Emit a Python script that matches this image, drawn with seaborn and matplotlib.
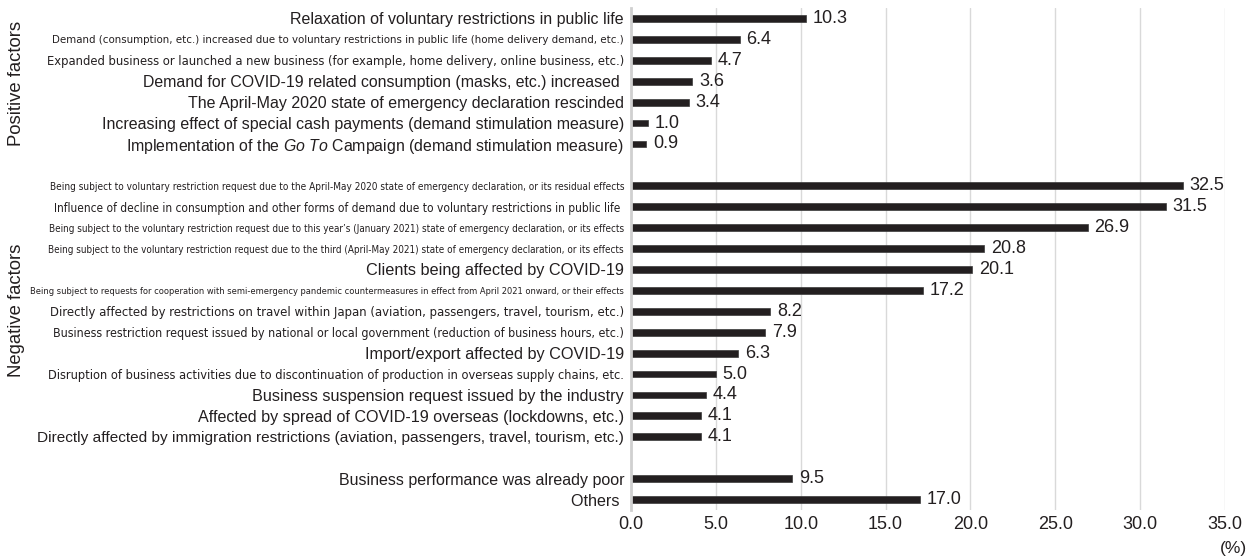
import matplotlib
matplotlib.use("Agg")
import matplotlib.pyplot as plt
from matplotlib import font_manager
import seaborn as sns
import pandas as pd

positive_labels = [
    "Relaxation of voluntary restrictions in public life",
    "Demand (consumption, etc.) increased due to voluntary restrictions in public life (home delivery demand, etc.)",
    "Expanded business or launched a new business (for example, home delivery, online business, etc.)",
    "Demand for COVID-19 related consumption (masks, etc.) increased ",
    "The April-May 2020 state of emergency declaration rescinded",
    "Increasing effect of special cash payments (demand stimulation measure)",
    r"Implementation of the $\mathit{Go\ To}$ Campaign (demand stimulation measure)",
]
positive_values = [10.3, 6.4, 4.7, 3.6, 3.4, 1.0, 0.9]

negative_labels = [
    "Being subject to voluntary restriction request due to the April-May 2020 state of emergency declaration, or its residual effects",
    "Influence of decline in consumption and other forms of demand due to voluntary restrictions in public life ",
    "Being subject to the voluntary restriction request due to this year\u2019s (January 2021) state of emergency declaration, or its effects",
    "Being subject to the voluntary restriction request due to the third (April-May 2021) state of emergency declaration, or its effects",
    "Clients being affected by COVID-19",
    "Being subject to requests for cooperation with semi-emergency pandemic countermeasures in effect from April 2021 onward, or their effects",
    "Directly affected by restrictions on travel within Japan (aviation, passengers, travel, tourism, etc.)",
    "Business restriction request issued by national or local government (reduction of business hours, etc.)",
    "Import/export affected by COVID-19",
    "Disruption of business activities due to discontinuation of production in overseas supply chains, etc.",
    "Business suspension request issued by the industry",
    "Affected by spread of COVID-19 overseas (lockdowns, etc.)",
    "Directly affected by immigration restrictions (aviation, passengers, travel, tourism, etc.)",
]
negative_values = [32.5, 31.5, 26.9, 20.8, 20.1, 17.2, 8.2, 7.9, 6.3, 5.0, 4.4, 4.1, 4.1]

other_labels = ["Business performance was already poor", "Others "]
other_values = [9.5, 17.0]

x_ticks = [0, 5, 10, 15, 20, 25, 30, 35]

# layout: left pixel edge where each label starts (label widths)
pos_left = [293, 53, 49, 145, 190, 104, 127]
neg_left = [48, 49, 51, 52, 324, 41, 55, 54, 365, 46, 254, 199, 40]
oth_left = [340, 573]

gap1, gap2 = "_gap1", "_gap2"
order = positive_labels + [gap1] + negative_labels + [gap2] + other_labels
lefts = pos_left + [None] + neg_left + [None] + oth_left

df = pd.DataFrame({
    "label": positive_labels + negative_labels + other_labels,
    "value": positive_values + negative_values + other_values,
})

sns.set_theme(style="white")
plt.rcParams['font.family'] = ['Liberation Sans', 'DejaVu Sans']
plt.rcParams['mathtext.fontset'] = 'custom'
plt.rcParams['mathtext.rm'] = 'Liberation Sans'
plt.rcParams['mathtext.it'] = 'Liberation Sans:italic'

# find a condensed face if one is installed
fams = {(f.name, f.stretch) for f in font_manager.fontManager.ttflist}
names = {f.name for f in font_manager.fontManager.ttflist}
cond = None
if "Liberation Sans Narrow" in names:
    cond = dict(family=["Liberation Sans Narrow", "Liberation Sans"], stretch="normal")
elif any(n == "DejaVu Sans" and s in ("condensed", 300, "semi-condensed") for n, s in fams):
    cond = dict(family=["DejaVu Sans"], stretch="condensed")
elif "Roboto Condensed" in names:
    cond = dict(family=["Roboto Condensed", "Liberation Sans"], stretch="normal")

W, H = 1255, 560
fig = plt.figure(figsize=(W / 100, H / 100), dpi=100)
ax_left, ax_right, ax_top, ax_bot = 631, 1225, 8, 510
ax = fig.add_axes([ax_left / W, 1 - ax_bot / H, (ax_right - ax_left) / W, (ax_bot - ax_top) / H])

sns.barplot(data=df, y="label", x="value", order=order, orient="h",
            color="#231f20", width=0.33, ax=ax, edgecolor="#3a3a3a", linewidth=0.5,
            saturation=1)

for cont in ax.containers:
    ax.bar_label(cont, fmt="%.1f", padding=5, fontsize=13, color="#231f20")

ax.set_xlim(0, 35)
ax.set_ylim(len(order) - 0.5, -0.5)
ax.set_xticks(x_ticks)
ax.set_xticklabels([f"{t:.1f}" for t in x_ticks], fontsize=13, color="#231f20")
ax.set_xlabel("")
ax.set_ylabel("")
ax.grid(axis="x", color="#d9d9d9", linewidth=1)
ax.grid(axis="y", visible=False)
ax.set_axisbelow(True)
for s in ["top", "right", "bottom"]:
    ax.spines[s].set_visible(False)
ax.spines["left"].set_color("#d0d0d0")
ax.spines["left"].set_linewidth(2)
ax.tick_params(axis="y", length=0, pad=5)
ax.tick_params(axis="x", length=0, pad=4)

ax.set_yticks(range(len(order)))
disp = [("" if l in (gap1, gap2) else l) for l in order]
ax.set_yticklabels(disp)
BASE = 11.4
for tl in ax.get_yticklabels():
    tl.set_color("#231f20")
    tl.set_fontsize(BASE)

# fit label sizes to the reference label widths
fig.canvas.draw()
renderer = fig.canvas.get_renderer()
for tl, lf in zip(ax.get_yticklabels(), lefts):
    if lf is None or not tl.get_text():
        continue
    target = (ax_left - 5) - lf
    bb = tl.get_window_extent(renderer)
    if cond is not None and bb.width * 0.93 > target:
        tl.set_fontfamily(cond["family"])
        tl.set_fontstretch(cond["stretch"])
for _ in range(3):
    fig.canvas.draw()
    for tl, lf in zip(ax.get_yticklabels(), lefts):
        if lf is None or not tl.get_text():
            continue
        target = (ax_left - 5) - lf
        bb = tl.get_window_extent(renderer)
        if bb.width > 0:
            tl.set_fontsize(min(BASE + 0.3, tl.get_fontsize() * target / bb.width))

# group labels
fig.text(17 / W, 1 - 83 / H, "Positive factors", rotation=90, ha="center", va="center",
         fontsize=13.3, color="#231f20")
fig.text(17 / W, 1 - 310 / H, "Negative factors", rotation=90, ha="center", va="center",
         fontsize=13.3, color="#231f20")
fig.text(1247 / W, 1 - 548 / H, "(%)", ha="right", va="center", fontsize=12.5, color="#231f20")

fig.savefig("out.png", dpi=100)
